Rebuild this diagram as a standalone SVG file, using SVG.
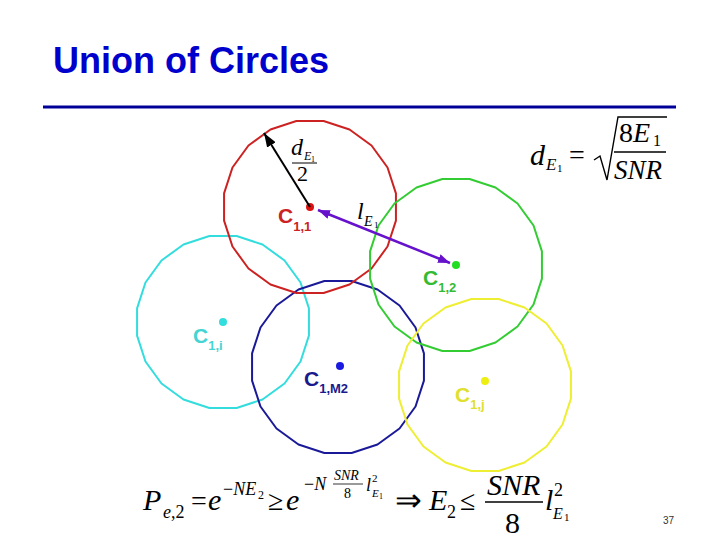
<svg xmlns="http://www.w3.org/2000/svg" width="720" height="540" viewBox="0 0 720 540">
<style>
.title{font-family:"Liberation Sans",Arial,sans-serif;font-weight:bold;font-size:36px;fill:#0000cc}
.ring{fill:none;stroke-width:2;stroke-linejoin:round}
.lbl{font-family:"Liberation Sans",Arial,sans-serif;font-weight:bold;font-size:21px}
.sub{font-size:13px}
.m{font-family:"Liberation Serif","Times New Roman",serif;fill:#000}
.i{font-style:italic}
.pg{font-family:"Liberation Sans",Arial,sans-serif;font-size:10px;fill:#333}
</style>
<defs>
<polygon id="poly" points="85.93,13.61 77.52,39.5 61.52,61.52 39.5,77.52 13.61,85.93 -13.61,85.93 -39.5,77.52 -61.52,61.52 -77.52,39.5 -85.93,13.61 -85.93,-13.61 -77.52,-39.5 -61.52,-61.52 -39.5,-77.52 -13.61,-85.93 13.61,-85.93 39.5,-77.52 61.52,-61.52 77.52,-39.5 85.93,-13.61"/>
<marker id="ahBlack" viewBox="0 0 14 10" refX="14" refY="5" markerWidth="14" markerHeight="10" markerUnits="userSpaceOnUse" orient="auto-start-reverse"><path d="M0,0 L14,5 L0,10 Z" fill="#000"/></marker>
<marker id="ahPurple" viewBox="0 0 12 9" refX="12" refY="4.5" markerWidth="12" markerHeight="9" markerUnits="userSpaceOnUse" orient="auto-start-reverse"><path d="M0,0 L12,4.5 L0,9 Z" fill="#6611cc"/></marker>
</defs>
<rect width="720" height="540" fill="#fff"/>
<text class="title" x="53" y="73">Union of Circles</text>
<line x1="43" y1="107" x2="676" y2="107" stroke="#000099" stroke-width="3"/>

<g id="c1i">
<use href="#poly" class="ring" stroke="#33dddd" transform="translate(223,322)"/>
<circle cx="223" cy="322" r="4" fill="#33dddd"/>
<text class="lbl" x="193" y="343" fill="#44d4d4">C<tspan class="sub" dy="7">1,i</tspan></text>
</g>
<g id="c1m2">
<use href="#poly" class="ring" stroke="#1a1a99" transform="translate(338,367)"/>
<circle cx="340" cy="366" r="4" fill="#1a1ae0"/>
<text class="lbl" x="304" y="386" fill="#1a1a8c">C<tspan class="sub" dy="7">1,M2</tspan></text>
</g>
<g id="c11">
<use href="#poly" class="ring" stroke="#cc2222" transform="translate(310,207)"/>
<circle cx="310" cy="207" r="4" fill="#dd1111"/>
<text class="lbl" x="278" y="223" fill="#cc2222">C<tspan class="sub" dy="8">1,1</tspan></text>
</g>
<g id="c12">
<use href="#poly" class="ring" stroke="#33cc33" transform="translate(456,265)"/>
<circle cx="456" cy="265" r="4" fill="#22dd22"/>
<text class="lbl" x="423" y="285" fill="#33bb33">C<tspan class="sub" dy="7">1,2</tspan></text>
</g>
<g id="c1j">
<use href="#poly" class="ring" stroke="#eeee33" transform="translate(485,385)"/>
<circle cx="485" cy="381" r="4" fill="#eeee11"/>
<text class="lbl" x="455" y="402" fill="#e0e030">C<tspan class="sub" dy="7">1,j</tspan></text>
</g>

<g id="connectors">
<line x1="310" y1="207" x2="264" y2="133" stroke="#000" stroke-width="2" marker-end="url(#ahBlack)"/>
<line x1="318" y1="210" x2="450" y2="263" stroke="#6611cc" stroke-width="2.5" marker-start="url(#ahPurple)" marker-end="url(#ahPurple)"/>
</g>

<g id="radius-label" class="m">
<text x="291" y="155" font-size="24" class="i">d</text>
<text x="304" y="160" font-size="12" class="i">E</text>
<text x="311" y="162" font-size="8">1</text>
<line x1="292" y1="163" x2="317" y2="163" stroke="#000" stroke-width="1"/>
<text x="297" y="181" font-size="22">2</text>
</g>

<g id="dist-label" class="m">
<text x="357" y="219" font-size="24" class="i">l</text>
<text x="364" y="226" font-size="14" class="i">E</text>
<text x="374" y="228" font-size="9">1</text>
</g>

<g id="formula-top" class="m">
<text x="530" y="165" font-size="30" class="i">d</text>
<text x="546" y="170" font-size="17" class="i">E</text>
<text x="557" y="172" font-size="11">1</text>
<text x="569" y="164" font-size="28">=</text>
<polyline points="594,160 600,156 607,180 618,117 667,117" fill="none" stroke="#000" stroke-width="1.4"/>
<text x="619" y="142" font-size="28">8<tspan class="i">E</tspan></text>
<text x="653" y="146" font-size="16">1</text>
<line x1="614" y1="152" x2="666" y2="152" stroke="#000" stroke-width="1.5"/>
<text x="614" y="179" font-size="27" class="i">SNR</text>
</g>

<g id="formula-bottom" class="m">
<text x="143" y="510" font-size="30" class="i">P</text>
<text x="163" y="518" font-size="18"><tspan class="i">e</tspan>,2</text>
<text x="191" y="510" font-size="28">=</text>
<text x="208" y="510" font-size="30" class="i">e</text>
<text x="223" y="495" font-size="18">−<tspan class="i">NE</tspan></text>
<text x="258" y="499" font-size="12">2</text>
<text x="268" y="510" font-size="28">≥</text>
<text x="286" y="510" font-size="30" class="i">e</text>
<text x="304" y="490" font-size="18">−<tspan class="i">N</tspan></text>
<text x="334" y="480" font-size="14" class="i">SNR</text>
<line x1="333" y1="484" x2="363" y2="484" stroke="#000" stroke-width="0.8"/>
<text x="344" y="498" font-size="14">8</text>
<text x="366" y="491" font-size="18" class="i">l</text>
<text x="372" y="482" font-size="11">2</text>
<text x="372" y="497" font-size="11" class="i">E</text>
<text x="379" y="499" font-size="8">1</text>
<text x="395" y="511" font-size="32">⇒</text>
<text x="429" y="510" font-size="30" class="i">E</text>
<text x="447" y="518" font-size="18">2</text>
<text x="460" y="510" font-size="28">≤</text>
<text x="487" y="495" font-size="30" class="i">SNR</text>
<line x1="485" y1="502" x2="543" y2="502" stroke="#000" stroke-width="1.5"/>
<text x="505" y="533" font-size="30">8</text>
<text x="545" y="510" font-size="30" class="i">l</text>
<text x="554" y="496" font-size="18">2</text>
<text x="553" y="519" font-size="16" class="i">E</text>
<text x="564" y="521" font-size="11">1</text>
</g>
<text class="pg" x="663" y="524">37</text>
</svg>
